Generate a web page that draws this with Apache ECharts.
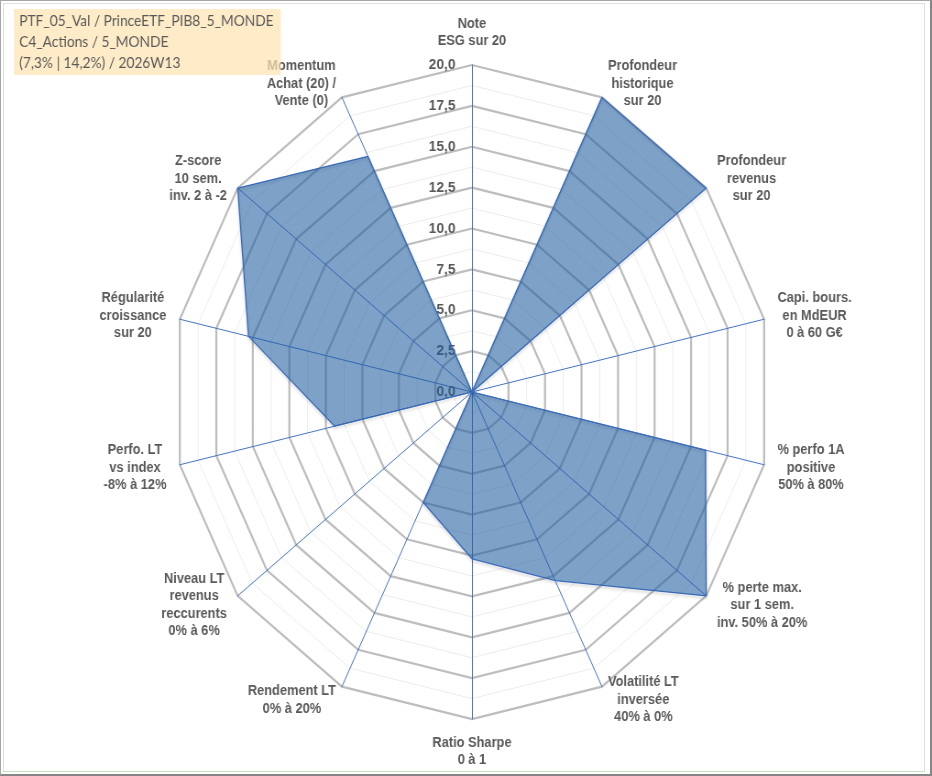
<!DOCTYPE html>
<html>
<head>
<meta charset="utf-8">
<script src="https://cdn.jsdelivr.net/npm/echarts@6/dist/echarts.min.js"></script>
<style>
    html, body { margin: 0; padding: 0; width: 932px; height: 776px; overflow: hidden; background: #fff; }
    /* le graphique d'origine est un peu comprimé en largeur */
    #main { position: absolute; left: 0; top: 0; width: 1017px; height: 776px; transform: scaleX(0.9164); transform-origin: 0 0; }
    .frame { position: absolute; box-sizing: border-box; pointer-events: none; }
</style>
</head>
<body>
<div id="main"></div>
<div class="frame" style="left:0;top:0;width:932px;height:776px;border:1px solid #a6a6a6;border-right:2px solid #868686;border-bottom:2px solid #868686;"></div>
<div class="frame" style="left:3px;top:3px;width:922px;height:769px;border:1px solid #e0e0e0;border-bottom-color:#c9e2bd;"></div>
<script>
var titleLines = ['PTF_05_Val / PrinceETF_PIB8_5_MONDE', 'C4_Actions / 5_MONDE', '(7,3% | 14,2%) / 2026W13'];

// axes dans le sens horaire depuis le haut
var categories = [
    'Note\nESG sur 20',
    'Profondeur\nhistorique\nsur 20',
    'Profondeur\nrevenus\nsur 20',
    'Capi. bours.\nen MdEUR\n0 à 60 G€',
    '% perfo 1A\npositive\n50% à 80%',
    '% perte max.\nsur 1 sem.\ninv. 50% à 20%',
    'Volatilité LT\ninversée\n40% à 0%',
    'Ratio Sharpe\n0 à 1',
    'Rendement LT\n0% à 20%',
    'Niveau LT\nrevenus\nreccurents\n0% à 6%',
    'Perfo. LT\nvs index\n-8% à 12%',
    'Régularité\ncroissance\nsur 20',
    'Z-score\n10 sem.\ninv. 2 à -2',
    'Momentum\nAchat (20) /\nVente (0)'
];
var scores = [0, 20, 20, 0, 16.0, 20, 12.8, 10.2, 7.5, 0, 9.4, 15.3, 20, 16.0];
var tickLabels = ['0,0', '2,5', '5,0', '7,5', '10,0', '12,5', '15,0', '17,5', '20,0'];
var axisMax = 20;
var axisStep = 2.5;

window.onload = () => {
    var chartDom = document.getElementById('main');
    var myChart = echarts.init(chartDom);
    var option;

    // echarts tourne dans le sens anti-horaire -> on inverse l'ordre (sauf le premier)
    var order = [0];
    for (var k = categories.length - 1; k > 0; k--) order.push(k);

    var nameStyle = {
        fontFamily: 'Liberation Sans',
        fontWeight: 'bold',
        fontSize: 14,
        lineHeight: 17.5,
        color: '#595959'
    };

    option = {
        animation: false,
        title: {
            text: titleLines.join('\n'),
            left: 15,
            top: 9,
            padding: [2, 8, 1, 6],
            backgroundColor: 'rgba(252,228,178,0.72)',
            textStyle: {
                fontFamily: 'Lato',
                fontSize: 15,
                fontWeight: 'normal',
                color: '#595959',
                lineHeight: 21
            }
        },
        radar: [{
                // cercles fins intermédiaires
                center: [515, 392],
                radius: 327,
                shape: 'polygon',
                splitNumber: 16,
                indicator: order.map(i => ({ name: '', min: 0, max: axisMax })),
                axisName: { show: false },
                axisLine: { show: false },
                axisTick: { show: false },
                axisLabel: { show: false },
                splitArea: { show: false },
                splitLine: { lineStyle: { color: '#ececec', width: 1 } }
            },
            {
                center: [515, 392],
                radius: 327,
                shape: 'polygon',
                splitNumber: 8,
                nameGap: 15,
                indicator: order.map((i, n) => {
                    var ind = { name: categories[i], min: 0, max: axisMax };
                    if (n === 0) ind.axisLabel = { show: true };
                    return ind;
                }),
                axisName: {
                    formatter: v => v.split('\n').map(l => '{c|' + l + '}').join('\n'),
                    rich: { c: Object.assign({ align: 'center' }, nameStyle) }
                },
                axisLine: { lineStyle: { color: '#4472c4', width: 1 } },
                axisTick: { show: false },
                splitArea: { show: false },
                splitLine: { lineStyle: { color: '#bdbdbd', width: 2.25 } },
                axisLabel: {
                    show: false,
                    margin: 18,
                    fontFamily: 'Liberation Sans',
                    fontWeight: 'bold',
                    fontSize: 15,
                    color: '#595959',
                    formatter: v => tickLabels[Math.round(v / axisStep)]
                }
            }
        ],
        series: [{
            type: 'radar',
            radarIndex: 1,
            symbol: 'none',
            silent: true,
            lineStyle: {
                color: '#4472c4',
                width: 1.25,
                shadowBlur: 3,
                shadowColor: 'rgba(0,0,0,0.25)',
                shadowOffsetY: 2
            },
            areaStyle: { color: '#215da0', opacity: 0.58 },
            data: [{ name: 'Score', value: order.map(i => scores[i]) }]
        }]
    };
    option && myChart.setOption(option);
}
</script>
</body>
</html>
